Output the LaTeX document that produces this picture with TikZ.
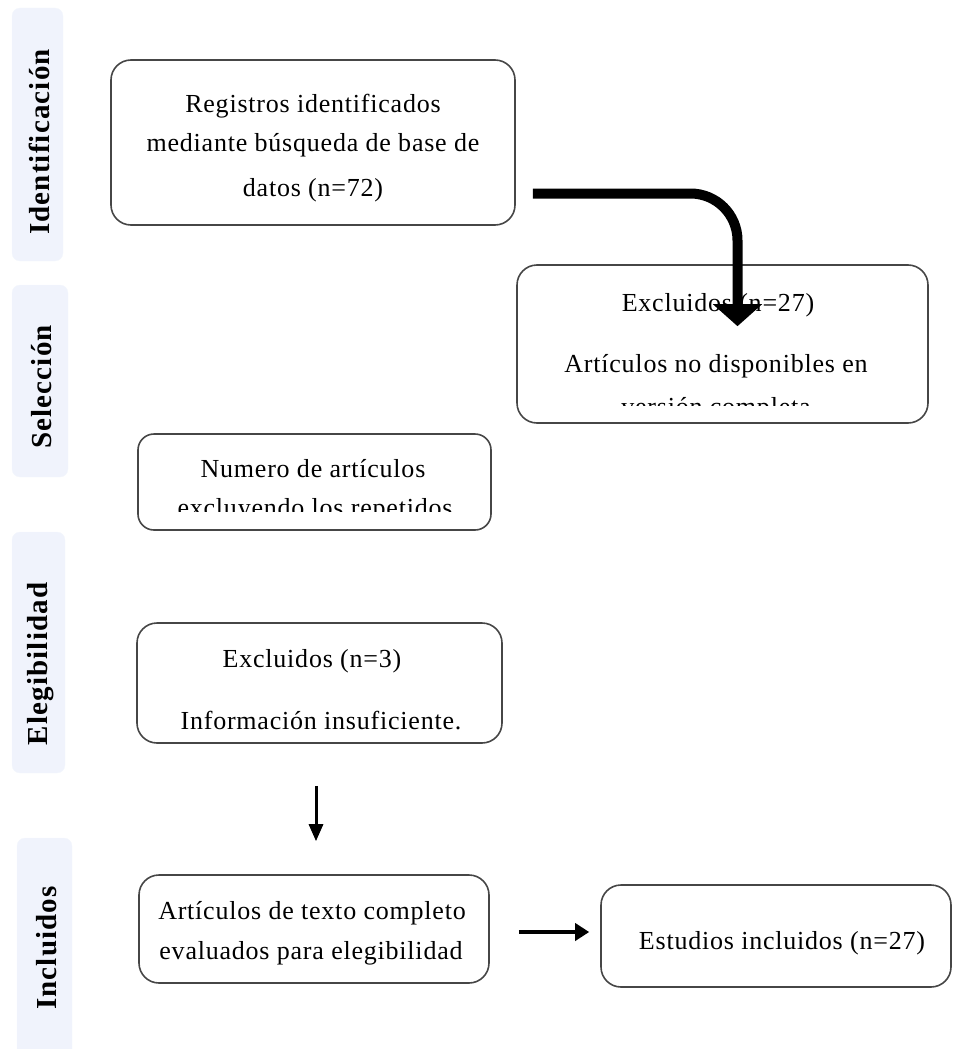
\documentclass[tikz,border=0pt]{standalone}
\usepackage{fontspec}
\setmainfont{Liberation Serif}
\usetikzlibrary{positioning}
\usetikzlibrary{arrows.meta}
\usetikzlibrary{calc}

\definecolor{bandblue}{RGB}{240,243,252}
\definecolor{boxgray}{RGB}{70,70,70}

\tikzset{
  box/.style={draw=boxgray, line width=1.6pt, rounded corners=20pt, fill=white},
  txt/.style={font=\fontsize{26}{30}\selectfont\addfontfeature{LetterSpace=3}, inner sep=0pt, anchor=mid},
  band/.style={fill=bandblue, draw=bandblue!70!white, rounded corners=8pt},
  bandtxt/.style={font=\fontsize{29}{32}\selectfont\bfseries\addfontfeature{LetterSpace=4}, rotate=90, inner sep=0pt},
}

\begin{document}
\begin{tikzpicture}[x=1pt,y=-1pt]
        \useasboundingbox (0,0) rectangle (953,1049);

        % Draw the side bands
        \foreach \name/\xa/\ya/\xb/\yb/\ty/\lbl in {ident/12/8/63/261/142/Identificación, selec/12/285/68/477/387/Selección, eleg/12/532/65/773/664/Elegibilidad, incl/17/838/72/1070/948/Incluidos}
        {
          \fill[band] (\xa,\ya) rectangle (\xb,\yb);
          \node[bandtxt] (\name) at ({(\xa+\xb)/2+2},\ty) {\lbl};
        }

        % Define the boxes
        \node[box, minimum width=404, minimum height=165] (reg) at (313,142.5) {};
        \node[box, minimum width=411, minimum height=158] (excl) at (722.5,344) {};
        \node[box, minimum width=353, minimum height=96, rounded corners=16pt] (num) at (314.5,482) {};
        \node[box, minimum width=365, minimum height=120] (exclb) at (319.5,683) {};
        \node[box, minimum width=350, minimum height=108] (eval) at (314,929) {};
        \node[box, minimum width=350, minimum height=102] (inc) at (776,936) {};

        % Texts of the boxes
        \node[txt] (regA) at (313,110) {Registros identificados};
        \node[txt] (regB) at (313,149) {mediante búsqueda de base de};
        \node[txt] (regC) at (313,194) {datos (n=72)};

        \node[txt] (exclA) at (718,309) {Excluidos (n=27)};
        \node[txt] (exclB) at (716,370) {Artículos no disponibles en};
        \begin{scope}
          \clip (517,265) rectangle (928,405);
          \node[txt] (exclC) at (716,413) {versión completa};
        \end{scope}

        \node[txt] (numA) at (313,475) {Numero de artículos};
        \begin{scope}
          \clip (138,434) rectangle (491,511);
          \node[txt] (numB) at (315,514) {excluyendo los repetidos};
        \end{scope}

        \node[txt] (exclbA) at (312,665) {Excluidos (n=3)};
        \node[txt] (exclbB) at (321,727) {Información insuficiente.};

        \node[txt] (evalA) at (312,917) {Artículos de texto completo};
        \node[txt] (evalB) at (311,957) {evaluados para elegibilidad};

        \node[txt] (incA) at (782,947) {Estudios incluidos (n=27)};

        % Draw the arrows
        \coordinate (bendStart) at ($(reg.east)+(17,51)$);
        \coordinate (bendEnd) at ($(excl.north)+(15,62)$);
        \draw[line width=10pt, rounded corners=47pt, -{Triangle[width=48pt,length=22pt]}] (bendStart) -- (bendEnd |- bendStart) -- (bendEnd);

        \coordinate (downStart) at ($(exclb.south)+(-3.5,42)$);
        \coordinate (downEnd) at ($(eval.north)+(2,-33)$);
        \draw[line width=3pt, -{Triangle[width=14pt,length=17pt]}] (downStart) -- (downEnd);

        \coordinate (rightStart) at ($(eval.east)+(29,3)$);
        \coordinate (rightEnd) at ($(inc.west)+(-11,-4)$);
        \draw[line width=4.5pt, -{Triangle[width=17pt,length=14pt]}] (rightStart) -- (rightEnd);
\end{tikzpicture}
\end{document}
